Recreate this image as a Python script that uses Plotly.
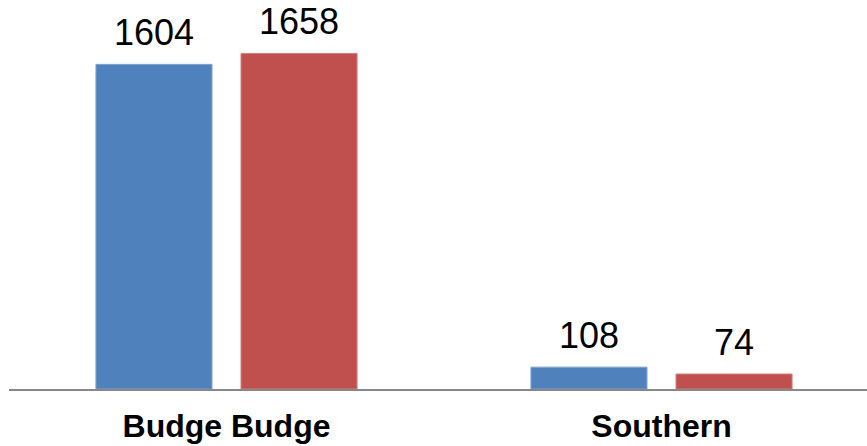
import plotly.graph_objects as go

categories = ["Budge Budge", "Southern"]
series_a = [1604, 108]
series_b = [1658, 74]
names = ["Series 1", "Series 2"]
colors = ["#4F81BD", "#C0504D"]
borders = ["#7FA3D0", "#D47C7A"]

fig = go.Figure()
for name, vals, c, bc in zip(names, [series_a, series_b], colors, borders):
    fig.add_trace(go.Bar(x=categories, y=vals, name=name, marker=dict(color=c, line=dict(color=bc, width=1))))

offsets = [-72.5, 72.5]
for vals, dx in zip([series_a, series_b], offsets):
    for cat, v in zip(categories, vals):
        fig.add_annotation(x=cat, y=v, text=str(v), showarrow=False, xshift=dx,
                           yanchor="bottom", yshift=9,
                           font=dict(family="Liberation Sans, Arial", size=36, color="#000"))

fig.update_layout(
    width=867, height=446,
    margin=dict(l=9, r=0, t=0, b=57),
    plot_bgcolor="white", paper_bgcolor="white",
    showlegend=False,
    barmode="group", bargap=0.333, bargroupgap=0.2,
    xaxis=dict(range=[-0.5, 1.4724], showline=True, linecolor="#888888", linewidth=2,
               ticks="", ticklabelstandoff=8,
               tickfont=dict(family="Liberation Sans, Arial", size=32, color="#000", weight="bold")),
    yaxis=dict(range=[0, 1922], visible=False, showgrid=False),
)
fig.write_html("out.html")
